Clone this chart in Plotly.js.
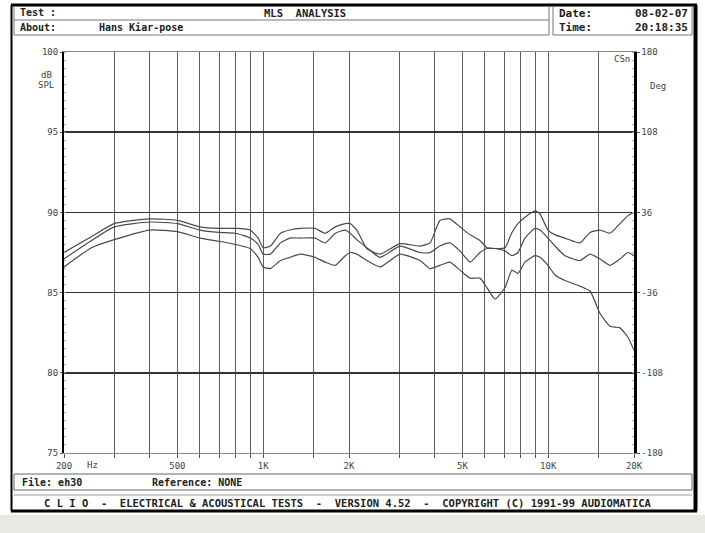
<!DOCTYPE html>
<html>
<head>
<meta charset="utf-8">
<script src="https://cdn.plot.ly/plotly-3.0.1.min.js"></script>
<style>
html,body{margin:0;padding:0;background:#fff;}
#chart{width:705px;height:533px;}
</style>
</head>
<body>
<div id="chart"></div>
<script>
// ---- data ----
const freq = [200,250,300,400,500,600,700,800,900,960,1000,1060,1150,1240,1350,1520,1650,1790,1940,2020,2130,2310,2570,3020,3550,3850,4170,4520,4900,5320,5760,6100,6500,7050,7460,7830,8290,8990,9360,9980,10570,11450,12930,14020,15200,16480,17860,19060,20000];
const splTop = [87.5,88.5,89.3,89.6,89.5,89.1,89.0,89.0,88.9,88.4,87.8,87.9,88.7,88.9,89.0,89.0,88.7,89.1,89.3,89.3,88.9,87.75,87.4,88.05,87.9,88.1,89.5,89.6,89.1,88.6,88.25,87.8,87.75,87.8,88.75,89.3,89.7,90.1,89.9,88.9,88.6,88.4,88.1,88.75,88.9,88.7,89.3,89.8,90.0];
const splMid = [87.1,88.25,89.1,89.4,89.3,88.9,88.75,88.7,88.4,88.0,87.4,87.4,88.1,88.4,88.4,88.4,88.1,88.7,88.9,88.7,88.3,87.8,87.2,87.9,87.5,87.5,87.9,88.1,87.6,86.9,87.5,87.75,87.75,87.6,87.3,87.5,88.4,89.0,88.9,88.4,87.9,87.3,87.0,87.4,87.1,86.7,87.1,87.5,87.3];
const splLow = [86.6,87.8,88.3,88.9,88.8,88.4,88.2,88.0,87.75,87.2,86.6,86.5,87.0,87.2,87.4,87.2,86.9,86.7,87.3,87.5,87.4,87.0,86.6,87.4,87.0,86.5,86.7,86.9,86.4,85.9,85.9,85.3,84.6,85.3,86.4,86.2,86.9,87.3,87.2,86.7,86.1,85.75,85.4,85.1,83.7,82.9,82.8,82.2,81.4];

const xGridVals = [200,300,400,500,600,700,800,900,1000,1500,2000,3000,4000,5000,6000,7000,8000,9000,10000,15000,20000];
const xGridText = ['200','','','500','','','','','1K','','2K','','','5K','','','','','10K','','20K'];
const yTickVals = [75,80,85,90,95,100];
const yTickText = ['75','80','85','90','95','100'];
const phaseTickVals = [-180,-108,-36,36,108,180];
const phaseTickText = ['-180','-108','-36','36','108','180'];

// ---- geometry helpers (pixel -> paper) ----
const W = 705, H = 533, L = 64, R = 71, T = 52, B = 80;
const PW = W - L - R, PH = H - T - B;
const px = x => (x - L) / PW;
const py = y => (H - B - y) / PH;

const mono = 'DejaVu Sans Mono, Liberation Mono, monospace';
const lineColor = '#4a4a4a';

const traces = [splTop, splMid, splLow].map(v => ({
  x: freq, y: v, type: 'scatter', mode: 'lines',
  line: {color: lineColor, width: 1.2, shape: 'spline', smoothing: 0.5},
  hoverinfo: 'skip', showlegend: false
}));
// phase axis anchor (no visible marks)
traces.push({x: [freq[0]], y: [phaseTickVals[0]], yaxis: 'y2', type: 'scatter', mode: 'none', hoverinfo: 'skip', showlegend: false});

function rect(x0,y0,x1,y1,color,width,fill){
  return {type:'rect', xref:'paper', yref:'paper', x0:px(x0), x1:px(x1), y0:py(y0), y1:py(y1),
    line:{color:color, width:width}, fillcolor: fill || 'rgba(0,0,0,0)', layer:'below'};
}
function hline(x0,x1,y,color,width){
  return {type:'line', xref:'paper', yref:'paper', x0:px(x0), x1:px(x1), y0:py(y), y1:py(y), line:{color:color,width:width}};
}
function vline(x,y0,y1,color,width){
  return {type:'line', xref:'paper', yref:'paper', x0:px(x), x1:px(x), y0:py(y0), y1:py(y1), line:{color:color,width:width}};
}
function txt(x,y,text,anchor,size,color){
  return {xref:'paper', yref:'paper', x:px(x), y:py(y), text:text, showarrow:false,
    xanchor:anchor||'left', yanchor:'middle', font:{family:mono, size:size||10, color:color||'#222'}};
}

const shapes = [
  rect(0,515,705,533,'rgba(0,0,0,0)',0,'#e9e9e3'),
  // outer frame
  hline(11,697,5,'#000',3),
  vline(11.5,5,511,'#000',2),
  vline(695.5,5,511,'#000',4),
  hline(11,697,511,'#000',3),
  // header boxes
  hline(14,549,20,'#777',1),
  hline(14,549,35,'#777',1),
  vline(14,7,35,'#777',1),
  vline(549,7,35,'#777',1),
  vline(553,7,35,'#777',1),
  hline(553,692,35,'#777',1),
  vline(692,7,35,'#777',1),
  // footer file box
  rect(14,474,692,490,'#666',1),
  hline(14,692,495,'#999',1)
];

const annotations = [
  txt(18,13,'<b>Test :</b>','left',10),
  txt(305,13,'<b>MLS  ANALYSIS</b>','center',10.5),
  txt(18,27.5,'<b>About:</b>','left',10),
  txt(97,27.5,'<b>Hans Kiar-pose</b>','left',10),
  txt(557,14,'<b>Date:</b>','left',11),
  txt(690,14,'<b>08-02-07</b>','right',11),
  txt(557,28,'<b>Time:</b>','left',11),
  txt(690,28,'<b>20:18:35</b>','right',11),
  txt(20,482,'<b>File: eh30</b>','left',10),
  txt(150,482,'<b>Reference: NONE</b>','left',10),
  txt(348,503,'<b>C L I O  -  ELECTRICAL & ACOUSTICAL TESTS  -  VERSION 4.52  -  COPYRIGHT (C) 1991-99 AUDIOMATICA</b>','center',10.5),
  txt(46,75,'dB','center',9,'#444'),
  txt(46,85,'SPL','center',9,'#444'),
  txt(658,86,'Deg','center',9,'#444'),
  txt(622,59,'CSn','center',9,'#444'),
  txt(92,465,'Hz','center',9,'#444')
];

const layout = {
  width: W, height: H,
  margin: {l: L, r: R, t: T, b: B, pad: 0},
  paper_bgcolor: '#fff', plot_bgcolor: '#fff',
  showlegend: false,
  xaxis: {
    type: 'log', range: [Math.log10(200), Math.log10(20000)],
    tickmode: 'array', tickvals: xGridVals, ticktext: xGridText,
    showgrid: true, gridcolor: '#5e5e5e', gridwidth: 1,
    ticks: 'outside', ticklen: 4, tickcolor: '#555',
    showline: true, linecolor: '#888', linewidth: 1, mirror: true,
    zeroline: false,
    tickfont: {family: mono, size: 9, color: '#444'}
  },
  yaxis: {
    range: [75, 100], tickmode: 'array', tickvals: yTickVals, ticktext: yTickText,
    showgrid: true, gridcolor: '#333', gridwidth: 1.6,
    ticks: 'outside', ticklen: 2, tickcolor: '#555',
    showline: true, linecolor: '#000', linewidth: 2,
    zeroline: false,
    minor: {dtick: 0.5, ticks: 'inside', ticklen: 2, tickcolor: '#aaa', showgrid: false},
    tickfont: {family: mono, size: 9, color: '#444'}
  },
  yaxis2: {
    overlaying: 'y', side: 'right', anchor: 'x',
    range: [-180, 180], tickmode: 'array', tickvals: phaseTickVals, ticktext: phaseTickText,
    showgrid: false, zeroline: false,
    ticks: 'outside', ticklen: 3, tickcolor: '#555',
    showline: true, linecolor: '#000', linewidth: 2.5,
    minor: {dtick: 7.2, ticks: 'inside', ticklen: 2, tickcolor: '#aaa', showgrid: false},
    tickfont: {family: mono, size: 9, color: '#444'}
  },
  shapes: shapes,
  annotations: annotations
};

Plotly.newPlot('chart', traces, layout, {displayModeBar: false, staticPlot: true});
</script>
</body>
</html>
